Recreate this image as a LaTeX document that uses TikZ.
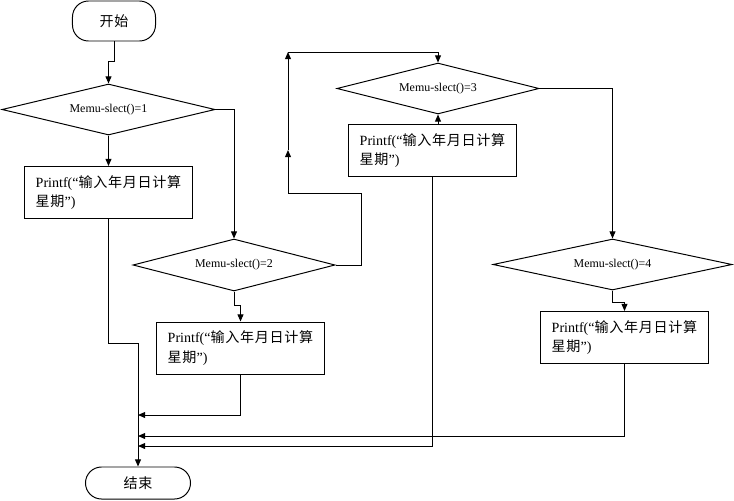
\documentclass[tikz,border=0pt]{standalone}
\usepackage{fontspec}
\setmainfont{Liberation Serif}
\newfontfamily\cjk[LetterSpace=5]{Noto Sans CJK SC}
\usetikzlibrary{shapes.geometric,arrows.meta}

\begin{document}
\begin{tikzpicture}[x=0.025cm,y=-0.025cm,line width=0.7pt,
        >={Triangle[length=1.8mm,width=1.5mm]},
        terminal/.style={draw,rounded corners=0.4cm,font=\cjk\fontsize{10}{12}\selectfont},
        cond/.style={draw,diamond,aspect=4,inner sep=0pt,minimum height=1.275cm,font=\fontsize{8.5}{10}\selectfont},
        proc/.style={draw,align=left,minimum width=4.2cm,minimum height=1.3cm,font=\fontsize{10}{14}\selectfont}]
        \useasboundingbox (0,0) rectangle (734,500);
        % start, end
        \node[terminal,minimum width=2.075cm,minimum height=1cm] (start) at (114,21) {开始};
        \node[terminal,minimum width=2.625cm,minimum height=0.8cm] (end) at (138,483) {结束};
        % conditions
        \node[cond,minimum width=5.325cm] (d1) at (108.5,109.5) {Memu-slect()=1};
        \node[cond,minimum width=5.05cm,minimum height=1.3cm] (d2) at (234,265) {Memu-slect()=2};
        \node[cond,minimum width=5.05cm] (d3) at (438,88.5) {Memu-slect()=3};
        \node[cond,minimum width=5.975cm] (d4) at (612.5,264.5) {Memu-slect()=4};
        % outputs
        \node[proc] (b1) at (108.5,192.5) {Printf(“{\cjk 输入年月日计算}\\{\cjk 星期}”)};
        \node[proc] (b2) at (240.5,348) {Printf(“{\cjk 输入年月日计算}\\{\cjk 星期}”)};
        \node[proc] (b3) at (432.5,150.5) {Printf(“{\cjk 输入年月日计算}\\{\cjk 星期}”)};
        \node[proc] (b4) at (624.5,337.5) {Printf(“{\cjk 输入年月日计算}\\{\cjk 星期}”)};
        % bends and joins
        \coordinate (r2) at (361,193);
        \coordinate (up2) at (288,150);
        \coordinate (top3) at (288,52);
        \coordinate (m1) at (138,343);
        \coordinate (j2) at (138,415);
        \coordinate (j4) at (138,436);
        \coordinate (j3) at (138,446);
        % flow
        \draw [->] (start.south) -- ++(0,20) -| (d1.north);
        \draw [->] (d1.south) -- (b1.north);
        \draw [->] (d1.east) -| (d2.north);
        \draw [->] (d2.south) -- ++(0,14) -| (b2.north);
        \draw [->] (d2.east) -| (r2) -| (up2);
        \draw [->] (up2) -- (top3);
        \draw [->] (top3) -| (d3.north);
        \draw [->] (d3.south |- b3.north) -- (d3.south);
        \draw [->] (d3.east) -| (d4.north);
        \draw [->] (d4.south) -- ++(0,12) -| (b4.north);
        \draw (b1.south) |- (m1);
        \draw [->] (m1) -- (end.north);
        \draw [->] (b2.south) |- (j2);
        \draw [->] (b4.south) |- (j4);
        \draw [->] (b3.south) |- (j3);
    \end{tikzpicture}
\end{document}
